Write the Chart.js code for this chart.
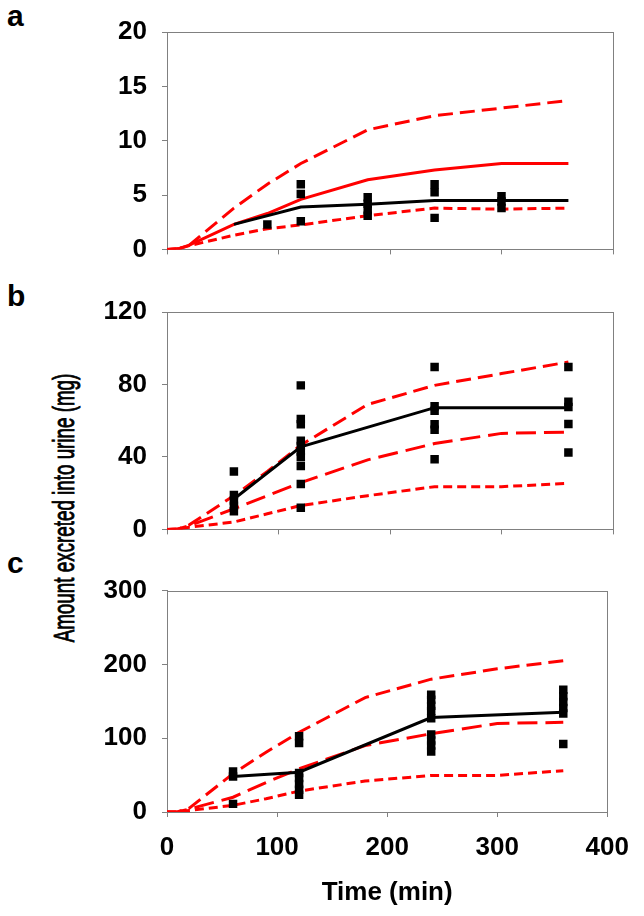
<!DOCTYPE html>
<html>
<head>
<meta charset="utf-8">
<script src="https://cdn.jsdelivr.net/npm/chart.js@4"></script>
<style>
    body { margin: 0; background: #fff; }
    #wrap { position: relative; width: 644px; height: 916px; overflow: hidden; }
    canvas { position: absolute; left: 0; }
    .panel-label { position: absolute; left: 7px; font: bold 30px 'Liberation Sans', Arial, sans-serif; line-height: 30px; }
    #yTitle { position: absolute; left: 64px; top: 508px; white-space: nowrap;
              font: 30px 'Liberation Sans', Arial, sans-serif; line-height: 30px;
              -webkit-text-stroke: 0.9px #000; }
</style>
</head>
<body>
<div id="wrap">
    <div class="panel-label" style="top:1px">a</div>
    <div class="panel-label" style="top:281px">b</div>
    <div class="panel-label" style="top:548px">c</div>
    <div id="yTitle">Amount excreted into urine (mg)</div>
    <canvas id="chartA" width="644" height="280" style="top:0"></canvas>
    <canvas id="chartB" width="644" height="280" style="top:280px"></canvas>
    <canvas id="chartC" width="644" height="356" style="top:560px"></canvas>
</div>
<script>
// simulated time points (min) shared by the red model curves
const simTime = [0, 10, 20, 60, 90, 120, 180, 240, 300, 360];

// panel a
const aUpper = [0, 0.05, 0.4, 3.8, 6.0, 7.9, 11.0, 12.3, 13.0, 13.7];
const aModel = [0, 0.05, 0.4, 2.3, 3.3, 4.6, 6.4, 7.3, 7.9, 7.9];
const aLower = [0, 0.05, 0.35, 1.3, 1.9, 2.25, 3.1, 3.8, 3.7, 3.8];
const aMeanTime = [60, 120, 180, 240, 300, 360];
const aMean = [2.3, 3.9, 4.15, 4.5, 4.5, 4.5];
const aObsTime = [90, 120, 120, 120, 180, 180, 180, 180, 240, 240, 240, 300, 300, 300];
const aObs = [2.3, 6.0, 5.1, 2.6, 4.8, 4.2, 3.6, 3.1, 6.0, 5.25, 2.9, 4.9, 4.4, 3.8];

// panel b
const bUpper = [0, 0.2, 2.5, 18.6, 32, 46.5, 69, 79.5, 86, 92.4];
const bMiddle = [0, 0.2, 2, 11.4, 18.6, 25.8, 38.4, 47.4, 53, 53.7];
const bLower = [0, 0.1, 1.2, 4.1, 8.6, 13.2, 18.6, 23.6, 23.6, 25.4];
const bMeanTime = [60, 120, 240, 360];
const bMean = [16.8, 45.6, 67.2, 67.2];
const bObsTime = [60, 60, 60, 60, 60, 120, 120, 120, 120, 120, 120, 120, 120, 120, 120,
                  240, 240, 240, 240, 240, 240, 360, 360, 360, 360, 360];
const bObs = [32, 19, 16, 13, 10, 79.5, 61, 58, 49, 46, 43, 40, 35, 25, 12,
              89.7, 68, 65.5, 58, 55, 38.7, 89.7, 70.5, 67.5, 58.2, 42.5];

// panel c
const cUpper = [0, 0.5, 5, 52, 81, 108, 155, 180, 194, 205];
const cMiddle = [0, 0.4, 4, 20, 40, 58.5, 90, 106, 120, 121.5];
const cLower = [0, 0.2, 2, 9, 18, 28.3, 42, 49.5, 49.5, 56];
const cMeanTime = [60, 120, 240, 360];
const cMean = [48, 54, 128, 135];
const cObsTime = [60, 60, 60, 120, 120, 120, 120, 120, 120, 120,
                  240, 240, 240, 240, 240, 240, 240, 240, 240, 360, 360, 360, 360, 360, 360];
const cObs = [55, 48, 11, 102.5, 93.5, 53, 46, 38, 30, 23.5,
              159, 152, 144, 137, 127, 105, 97, 90, 82, 165.5, 157, 149, 141, 133.6, 92];

const xMax = 400, xStep = 100;

const RED = '#ff0000';
const AXIS = '#808080';
const tickFont = { family: "'Liberation Sans', Arial, sans-serif", size: 26, weight: 'bold' };

function pts(xs, ys) {
    return xs.map((x, i) => ({ x: x, y: ys[i] }));
}

// box around the plot area like the original
const frame = {
    id: 'frame',
    beforeDatasetsDraw(chart) {
        const a = chart.chartArea;
        const ctx = chart.ctx;
        ctx.save();
        ctx.strokeStyle = AXIS;
        ctx.lineWidth = 1;
        ctx.strokeRect(Math.round(a.left) + 0.5, Math.round(a.top) + 0.5,
                       Math.round(a.right - a.left), Math.round(a.bottom - a.top));
        ctx.restore();
    }
};

function redLine(data, dash) {
    return {
        data: pts(simTime, data),
        borderColor: RED,
        borderWidth: 3,
        borderDash: dash,
        pointRadius: 0,
        showLine: true,
        tension: 0
    };
}

function makePanel(id, opts) {
    const ctx = document.getElementById(id).getContext('2d');
    const datasets = [
        {
            data: pts(opts.obsTime, opts.obs),
            pointStyle: 'rect',
            pointRadius: 6,
            backgroundColor: '#000',
            borderColor: '#000',
            borderWidth: 0,
            showLine: false
        },
        {
            data: pts(opts.meanTime, opts.mean),
            borderColor: '#000',
            borderWidth: 3,
            pointRadius: 0,
            showLine: true,
            tension: 0
        }
    ].concat(opts.curves);

    return new Chart(ctx, {
        type: 'scatter',
        data: { datasets: datasets },
        options: {
            responsive: false,
            animation: false,
            layout: { padding: { top: opts.padTop, left: 0, right: 31, bottom: 0 } },
            plugins: { legend: { display: false }, tooltip: { enabled: false } },
            scales: {
                x: {
                    type: 'linear',
                    min: 0,
                    max: xMax,
                    border: { display: true, color: AXIS, width: 1 },
                    grid: { drawOnChartArea: false, drawTicks: true, tickLength: 5, color: AXIS },
                    ticks: { display: opts.showX, stepSize: xStep, color: '#000', font: tickFont, padding: 15, maxRotation: 0 },
                    title: {
                        display: opts.showX,
                        text: 'Time (min)',
                        color: '#000',
                        font: { family: "'Liberation Sans', Arial, sans-serif", size: 26, weight: 'bold' },
                        padding: { top: 0, bottom: 8 }
                    },
                    afterFit: scale => { scale.height = opts.xHeight; }
                },
                y: {
                    min: 0,
                    max: opts.yMax,
                    border: { display: true, color: AXIS, width: 1 },
                    grid: { drawOnChartArea: false, drawTicks: true, tickLength: 5, color: AXIS },
                    ticks: { stepSize: opts.yStep, color: '#000', font: tickFont, padding: 15 },
                    afterFit: scale => { scale.width = 167; }
                }
            }
        },
        plugins: [frame]
    });
}

makePanel('chartA', {
    obsTime: aObsTime, obs: aObs, meanTime: aMeanTime, mean: aMean,
    curves: [redLine(aUpper, [15, 7]), redLine(aModel, []), redLine(aLower, [9, 5])],
    yMax: 20, yStep: 5, padTop: 32, xHeight: 26, showX: false
});

makePanel('chartB', {
    obsTime: bObsTime, obs: bObs, meanTime: bMeanTime, mean: bMean,
    curves: [redLine(bUpper, [15, 7]), redLine(bMiddle, [20, 8]), redLine(bLower, [9, 5])],
    yMax: 120, yStep: 40, padTop: 32, xHeight: 26, showX: false
});

makePanel('chartC', {
    obsTime: cObsTime, obs: cObs, meanTime: cMeanTime, mean: cMean,
    curves: [redLine(cUpper, [15, 7]), redLine(cMiddle, [20, 8]), redLine(cLower, [9, 5])],
    yMax: 300, yStep: 100, padTop: 29, xHeight: 104, showX: true
});

// rotated axis title shared by all three panels, squeezed to the original length
const yTitle = document.getElementById('yTitle');
const sx = 269 / yTitle.offsetWidth;
yTitle.style.transform = 'translate(-50%, -50%) rotate(-90deg) scale(' + sx + ', 1)';
</script>
</body>
</html>
